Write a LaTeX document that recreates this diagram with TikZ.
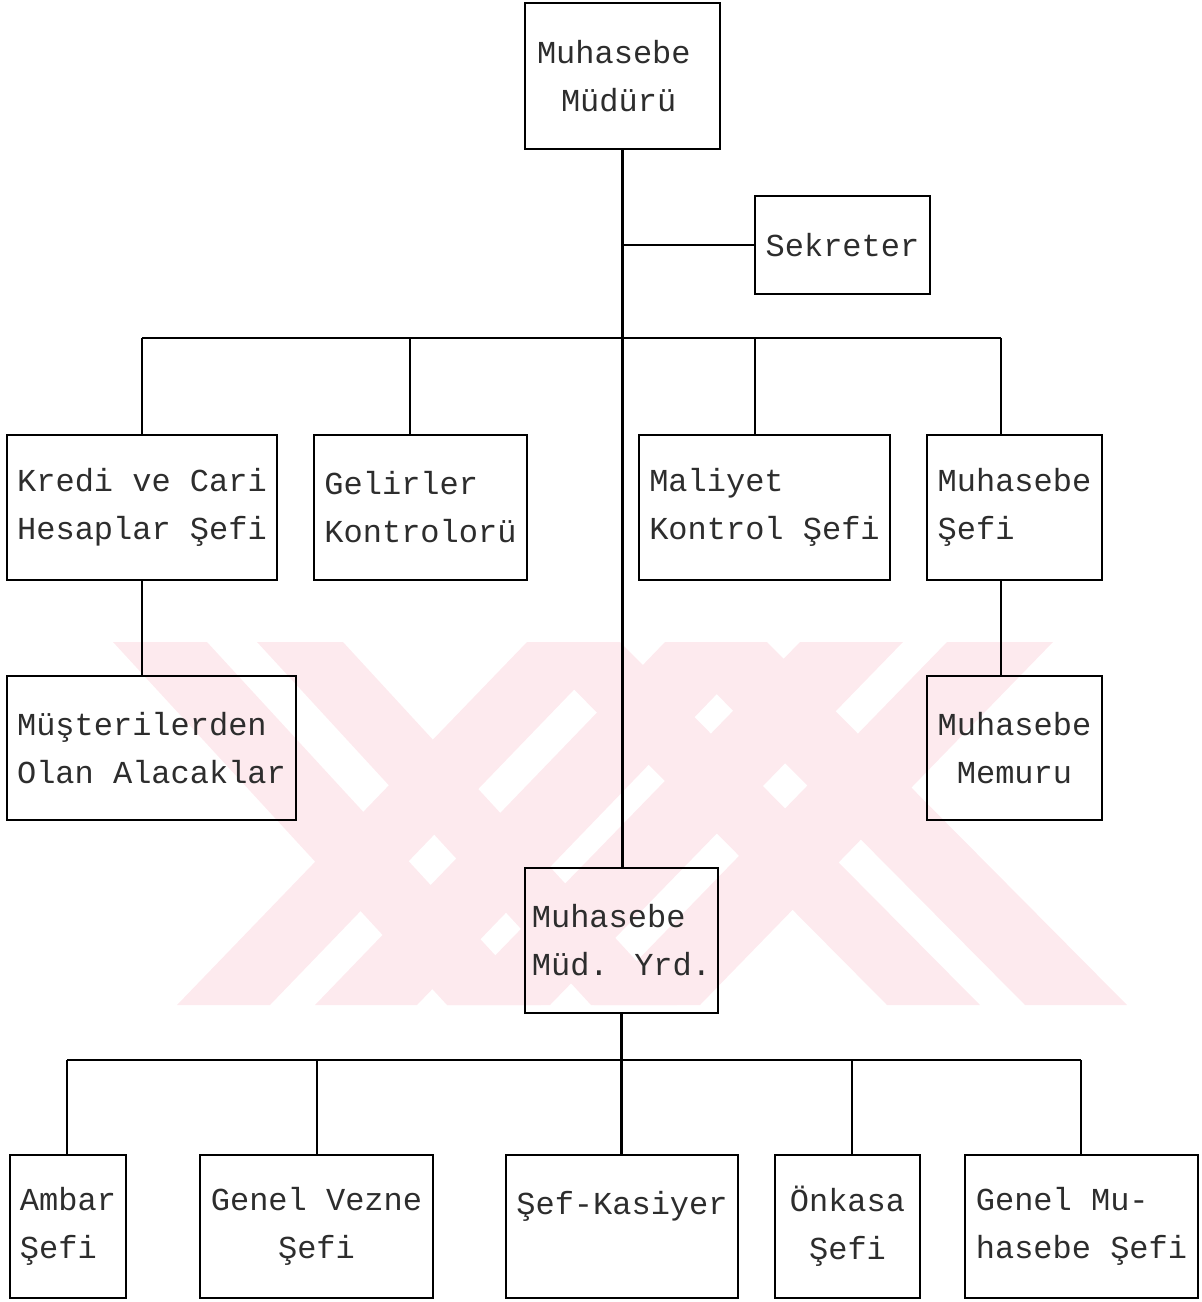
\documentclass[tikz,border=0pt]{standalone}
\usepackage{fontspec}
\newfontfamily\dotfont{Liberation Mono}
\usetikzlibrary{positioning}
\definecolor{wmpink}{RGB}{253,234,238}
\definecolor{inkgray}{RGB}{45,45,45}

\begin{document}
\begin{tikzpicture}[x=1pt, y=-1pt,
    box/.style={draw, line width=1.8pt, inner sep=0pt, align=left, text=inkgray,
      font=\dotfont\fontsize{32}{48}\selectfont},
    link/.style={line width=2.2pt}]
  \useasboundingbox (0,0) rectangle (1202,1302);

  % Watermark stripes
  \foreach \a/\b/\s in {113/207/334, 257/343/334, 527/620/-350, 665/767/-350,
                        800/903/-353, 947/1053/-353, 527/620/360, 665/767/360}
    \fill[wmpink] (\a,642) -- (\b,642) -- ({\b+\s},1005) -- ({\a+\s},1005) -- cycle;

  % Top
  \node[box, minimum width=195pt, minimum height=146pt, text width=171pt] (mudur) at (622.5,76) {Muhasebe\\\hspace*{24pt}Müdürü};
  \node[box, minimum width=175pt, minimum height=98pt] (sekreter) at (842.5,245) {Sekreter};

  % Second row
  \node[box, minimum width=270pt, minimum height=145pt] (kredi) at (142,507.5) {Kredi ve Cari\\Hesaplar Şefi};
  \node[box, minimum width=213pt, minimum height=145pt] (gelir) at (420.5,507.5) {Gelirler\\Kontrolorü};
  \node[box, minimum width=251pt, minimum height=145pt] (maliyet) at (764.5,507.5) {Maliyet\\Kontrol Şefi};
  \node[box, minimum width=175pt, minimum height=145pt] (muhsef) at (1014.5,507.5) {Muhasebe\\Şefi};

  % Third row
  \node[box, minimum width=289pt, minimum height=144pt] (musteri) at (151.5,748) {Müşterilerden\\Olan Alacaklar};
  \node[box, minimum width=175pt, minimum height=144pt, align=center] (memur) at (1014.5,748) {Muhasebe\\Memuru};

  % Deputy
  \node[box, minimum width=193pt, minimum height=145pt] (yrd) at (621.5,940.5) {Muhasebe\\Müd. Yrd.};

  % Bottom row
  \node[box, minimum width=116pt, minimum height=143pt] (ambar) at (68,1226.5) {Ambar\\Şefi};
  \node[box, minimum width=233pt, minimum height=143pt, align=center] (vezne) at (316.5,1226.5) {Genel Vezne\\Şefi};
  \node[box, minimum width=232pt, minimum height=143pt] (kasiyer) at (622,1226.5) {\mbox{Şef-Kasiyer}\\\mbox{}};
  \node[box, minimum width=145pt, minimum height=143pt, align=center] (onkasa) at (847.5,1226.5) {Önkasa\\Şefi};
  \node[box, minimum width=233pt, minimum height=143pt] (genmuh) at (1081.5,1226.5) {Genel Mu-\\hasebe Şefi};

  % Trunk and secretary
  \draw[link] (mudur.south) -- (mudur.south |- yrd.north);
  \draw[link] (sekreter.west) -- (sekreter.west -| mudur.south);

  % Upper bus
  \coordinate (busL) at (142,338);
  \coordinate (busR) at (1001,338);
  \draw[link] (busL) -- (busR);
  \foreach \n/\x in {kredi/142, gelir/410, maliyet/755, muhsef/1001} {
    \coordinate (drop) at (\x,338);
    \draw[link] (drop) -- (drop |- \n.north);
  }
  \draw[link] (kredi.south) -- (kredi.south |- musteri.north);
  \draw[link] (busR |- muhsef.south) -- (busR |- memur.north);

  % Lower bus
  \coordinate (lowL) at (67,1060);
  \coordinate (lowR) at (1081,1060);
  \draw[link] (lowL) -- (lowR);
  \draw[link] (yrd.south) -- (yrd.south |- kasiyer.north);
  \foreach \n/\x in {ambar/67, vezne/317, onkasa/852, genmuh/1081} {
    \coordinate (drop) at (\x,1060);
    \draw[link] (drop) -- (drop |- \n.north);
  }
\end{tikzpicture}
\end{document}
